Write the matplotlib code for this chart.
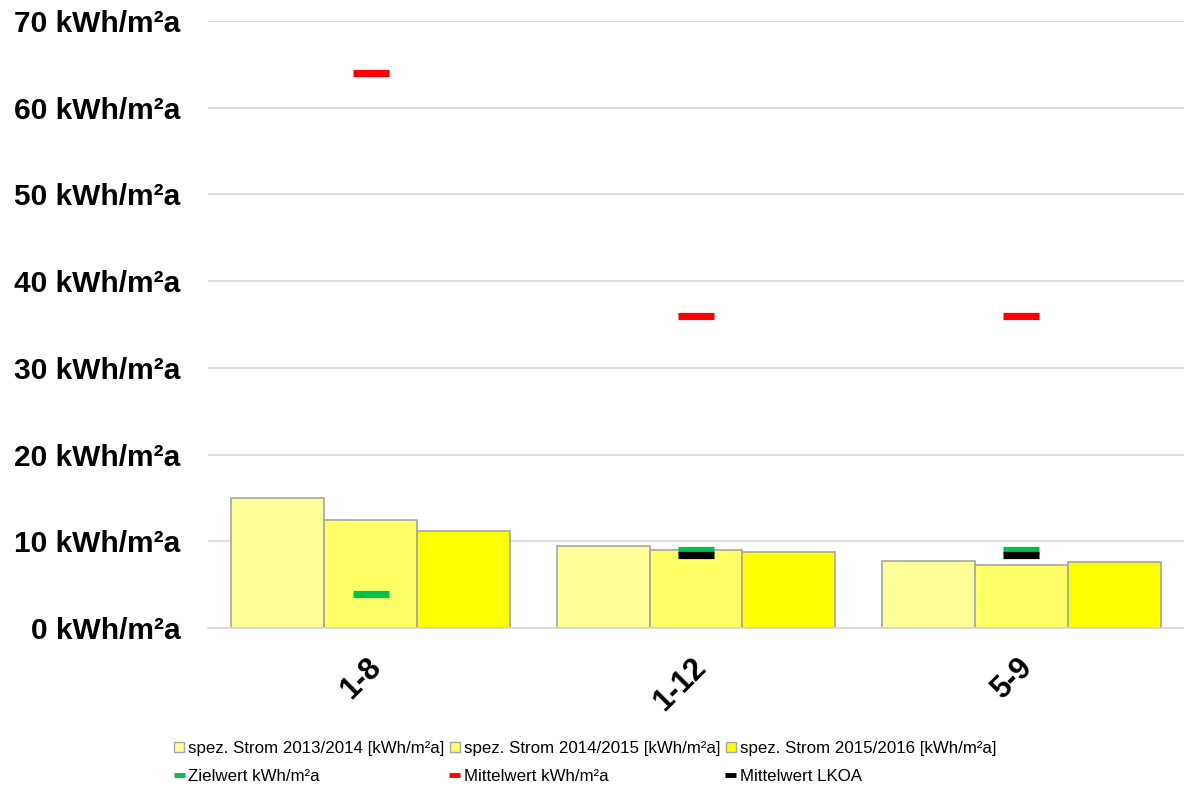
import numpy as np
import matplotlib
matplotlib.use("Agg")
import matplotlib.pyplot as plt
import matplotlib.ticker as mtick
import matplotlib.transforms as mtrans
from matplotlib.lines import Line2D

plt.rcParams['font.family'] = ['Liberation Sans', 'DejaVu Sans']

categories = ["1-8", "1-12", "5-9"]

strom_2013 = [15.0, 9.5, 7.7]
strom_2014 = [12.4, 9.0, 7.3]
strom_2015 = [11.2, 8.8, 7.6]

zielwert = [3.9, 9.0, 9.0]
mittelwert = [64.0, 36.0, 36.0]
mittelwert_lkoa = [None, 8.4, 8.4]

bar_labels = ["spez. Strom 2013/2014 [kWh/m²a]",
              "spez. Strom 2014/2015 [kWh/m²a]",
              "spez. Strom 2015/2016 [kWh/m²a]"]
bar_colors = ['#FFFF99', '#FFFF66', '#FFFF00']

marker_labels = ["Zielwert kWh/m²a", "Mittelwert kWh/m²a", "Mittelwert LKOA"]
marker_colors = ['#00C050', '#FF0000', '#000000']

fig = plt.figure(figsize=(11.84, 7.9), dpi=100)
ax = fig.add_axes([208 / 1184, 1 - 628 / 790, 976 / 1184, (628 - 21) / 790])

x = np.arange(len(categories))
w = 1 / 3.5
for i, (vals, c) in enumerate(zip([strom_2013, strom_2014, strom_2015], bar_colors)):
    ax.bar(x + (i - 1) * w, vals, width=w, color=c, edgecolor='#a6a6a6', linewidth=1.2, zorder=2)

for vals, c in zip([zielwert, mittelwert, mittelwert_lkoa], marker_colors):
    xs = [xi for xi, v in zip(x, vals) if v is not None]
    ys = [v for v in vals if v is not None]
    ax.plot(xs, ys, ls='none', marker='_', ms=25.5, mew=5.2, color=c, zorder=3)

ax.set_xlim(-0.5, len(categories) - 0.5)
ax.set_ylim(0, 70)
ax.set_yticks(np.arange(0, 71, 10))
ax.yaxis.set_major_formatter(mtick.FuncFormatter(lambda v, p: "%d kWh/m²a" % v))
ax.grid(axis='y', color='#d9d9d9', lw=1.2, zorder=0)
ax.set_axisbelow(True)
for s in ['top', 'right', 'left']:
    ax.spines[s].set_visible(False)
ax.spines['bottom'].set_color('#d9d9d9')
ax.spines['bottom'].set_linewidth(1.2)
ax.tick_params(axis='y', length=0, pad=20, labelsize=21.5)
ax.tick_params(axis='x', length=0, pad=25, labelsize=22)
for lab in ax.get_yticklabels():
    lab.set_fontweight('bold')

ax.set_xticks(x)
ax.set_xticklabels(categories, rotation=45, ha='right', va='center',
                   rotation_mode='anchor', fontweight='bold')
shift = mtrans.ScaledTranslation(6 / 100, 0, fig.dpi_scale_trans)
for lab in ax.get_xticklabels():
    lab.set_transform(lab.get_transform() + shift)

# legend filled column by column, so interleave to get the rows right
handles, labels = [], []
for bc, bl, mc, ml in zip(bar_colors, bar_labels, marker_colors, marker_labels):
    handles.append(Line2D([], [], ls='none', marker='s', ms=6.5, mfc=bc, mec='#a6a6a6', mew=1))
    labels.append(bl)
    handles.append(Line2D([], [], color=mc, lw=3.5, solid_capstyle='butt'))
    labels.append(ml)
fig.legend(handles, labels, ncol=3, loc='center', bbox_to_anchor=(0.494, 0.035),
           frameon=False, fontsize=12.2, handlelength=0.65, handletextpad=0.2,
           columnspacing=0.3, labelspacing=0.75)

fig.savefig("out.png", dpi=100)
